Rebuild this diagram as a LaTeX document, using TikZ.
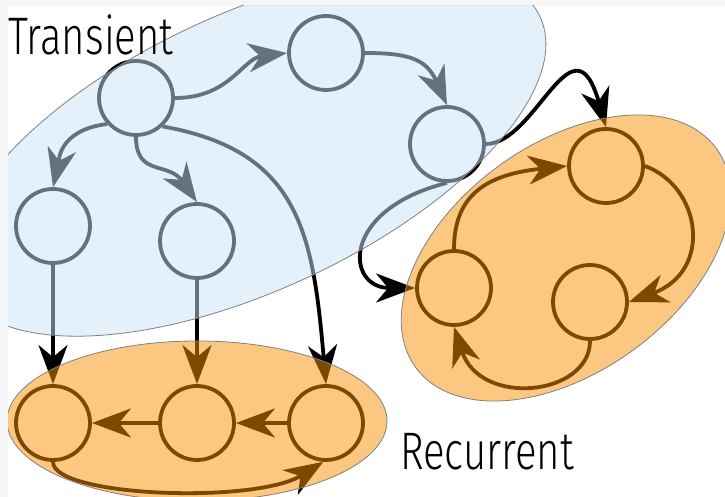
\documentclass[tikz,border=0pt]{standalone}
\usepackage{fontspec}
\setmainfont{Fira Sans}[UprightFont={* Light}, FakeStretch=0.76]
\usetikzlibrary{arrows.meta}
\definecolor{bluefill}{RGB}{204,228,246}
\definecolor{orangefill}{RGB}{250,147,4}
\definecolor{framegray}{RGB}{246,246,246}
\definecolor{rimgray}{RGB}{128,128,128}
\begin{document}
\begin{tikzpicture}[x=1bp,y=1bp,
  state/.style={circle, draw=black, fill=white, line width=3.8bp, minimum size=74bp, inner sep=0pt},
  edge/.style={draw=black, line width=3.8bp, -{Stealth[length=39bp,width=29bp,inset=12bp]}},
  blob/.style={fill=#1, fill opacity=0.5, draw=rimgray, draw opacity=1, line width=0.8bp},
  lab/.style={anchor=base west, inner sep=0pt, font=\fontsize{53}{60}\selectfont}]
\useasboundingbox (0,0) rectangle (725,497);
\fill[framegray] (0,0) rectangle (725,497);
\fill[white] (8,0) rectangle (725,491);
\begin{scope}
\clip (8,0) rectangle (725,491);
% transient states
\node[state] (A) at (136,399) {};
\node[state] (B) at (326,444) {};
\node[state] (C) at (447,353) {};
\node[state] (D) at (53,271) {};
\node[state] (E) at (197,256) {};
% recurrent states
\node[state] (R1) at (53,74) {};
\node[state] (R2) at (197,74) {};
\node[state] (R3) at (326,74) {};
\node[state] (R4) at (606,331) {};
\node[state] (R5) at (454,209) {};
\node[state] (R6) at (590,195) {};
% edges
\draw[edge] (A.east) .. controls +(0:55) and +(187:45) .. (B.west);
\draw[edge] (B.east) .. controls +(0:45) and +(114:50) .. (C.north);
\draw[edge] (A.222) .. controls +(187:50) and +(77:25) .. (D.north);
\draw[edge] (A.south) .. controls +(-90:40) and +(125:50) .. (E.north);
\draw[edge] (A.-47) .. controls +(-10:140) and +(95:150) .. (R3.north);
\draw[edge] (C.east) .. controls +(0:50) and +(106:120) .. (R4.north);
\draw[edge] (C.south) .. controls +(194:110) and +(180:70) .. (R5.west);
\draw[edge] (D.south) -- (R1.north);
\draw[edge] (E.south) -- (R2.north);
\draw[edge] (R2.west) -- (R1.east);
\draw[edge] (R3.west) -- (R2.east);
\draw[edge] (R1.south) .. controls +(-90:35) and +(212:80) .. (R3.-94);
\draw[edge] (R5.north) .. controls +(90:55) and +(186:80) .. (R4.west);
\draw[edge] (R4.east) .. controls +(-20:60) and +(20:90) .. (R6.east);
\draw[edge] (R6.south) .. controls +(-90:55) and +(-72:85) .. (R5.south);
% class overlays
\draw[blob=bluefill, rotate around={25:(250,345)}] (250,345) ellipse [x radius=320, y radius=138];
\draw[blob=orangefill] (197,76) ellipse [x radius=190, y radius=80];
\draw[blob=orangefill, rotate around={36:(566,239)}] (566,239) ellipse [x radius=186, y radius=114];
\end{scope}
\node[lab] (tlab) at (8,442) {Transient};
\node[lab] (rlab) at (400,27) {Recurrent};
\end{tikzpicture}
\end{document}
